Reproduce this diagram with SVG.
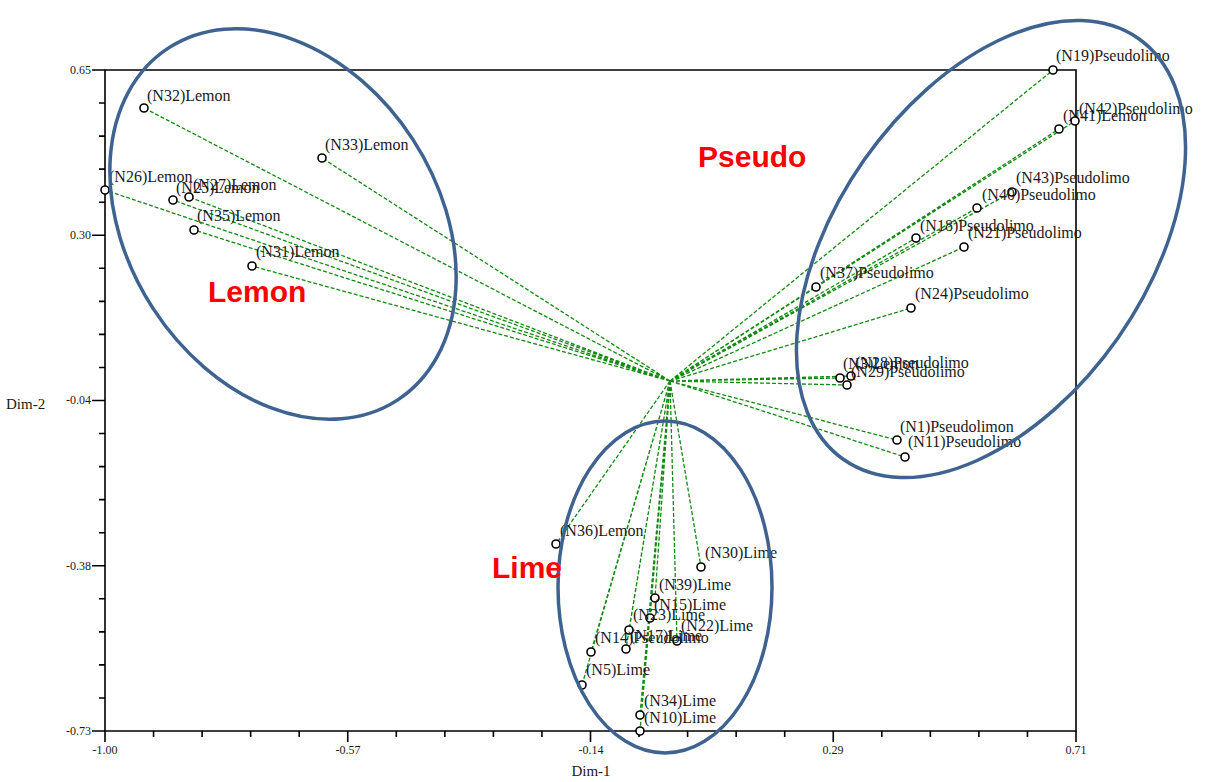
<svg xmlns="http://www.w3.org/2000/svg" width="1207" height="782" viewBox="0 0 1207 782">
<style>
.lbl{font-family:"Liberation Serif","Times New Roman",serif;font-size:16px;fill:#1a1a1a}
.tick{font-family:"Liberation Serif","Times New Roman",serif;font-size:12px;fill:#1a1a1a}
.axt{font-family:"Liberation Serif","Times New Roman",serif;font-size:15px;fill:#1a1a1a}
.grp{font-family:"Liberation Sans",Arial,sans-serif;font-size:30px;font-weight:bold;fill:#ff0000}
.ln{stroke:#128a12;stroke-width:1.3;stroke-dasharray:4 2;fill:none}
.pt{fill:#ffffff;stroke:#000;stroke-width:1.6}
.ax{stroke:#000;stroke-width:1.6;fill:none}
.el{fill:none;stroke:#3f6391;stroke-width:3.5}
</style>
<rect width="1207" height="782" fill="#fff"/>
<g id="axes">
<path class="ax" d="M105,70 H1076 V731 H105 Z"/>
<path class="ax" d="M105,731 V742 M153.55,731 v6 M202.1,731 v6 M250.65,731 v6 M299.2,731 v6 M347.75,731 v11 M396.3,731 v6 M444.85,731 v6 M493.4,731 v6 M541.95,731 v6 M590.5,731 v11 M639.05,731 v6 M687.6,731 v6 M736.15,731 v6 M784.7,731 v6 M833.25,731 v11 M881.8,731 v6 M930.35,731 v6 M978.9,731 v6 M1027.45,731 v6 M1076,731 v11"/>
<path class="ax" d="M92,70 H105 M99,103.05 h6 M99,136.1 h6 M99,169.15 h6 M99,202.2 h6 M92,235.25 H105 M99,268.3 h6 M99,301.35 h6 M99,334.4 h6 M99,367.45 h6 M92,400.5 H105 M99,433.55 h6 M99,466.6 h6 M99,499.65 h6 M99,532.7 h6 M92,565.75 H105 M99,598.8 h6 M99,631.85 h6 M99,664.9 h6 M99,697.95 h6 M92,731 H105"/>
<g class="tick" text-anchor="end">
<text x="91" y="74">0.65</text>
<text x="91" y="239">0.30</text>
<text x="91" y="404">-0.04</text>
<text x="91" y="570">-0.38</text>
<text x="91" y="735">-0.73</text>
</g>
<g class="tick" text-anchor="middle">
<text x="105" y="754">-1.00</text>
<text x="348" y="754">-0.57</text>
<text x="591" y="754">-0.14</text>
<text x="833" y="754">0.29</text>
<text x="1076" y="754">0.71</text>
</g>
<text class="axt" x="591" y="776" text-anchor="middle">Dim-1</text>
<text class="axt" x="6" y="409">Dim-2</text>
</g>
<g id="connectors">
<path class="ln" d="M670,381 L144,108 M670,381 L322,158 M670,381 L105,190 M670,381 L173,200 M670,381 L189,197 M670,381 L194,230 M670,381 L252,266 M670,381 L556,544"/>
<path class="ln" d="M670,381 L1053,70 M670,381 L1059,129 M670,381 L1075,121 M670,381 L1012,192 M670,381 L977,208 M670,381 L916,238 M670,381 L964,247 M670,381 L816,287 M670,381 L911,308 M670,381 L840,378 M670,381 L851,376 M670,381 L847,385 M670,381 L897,440 M670,381 L905,457"/>
<path class="ln" d="M670,381 L701,567 M670,381 L655,598 M670,381 L650,618 M670,381 L629,630 M670,381 L677,641 M670,381 L626,649 M670,381 L591,652 M670,381 L582,685 M670,381 L640,715 M670,381 L640,731"/>
</g>
<g id="n32"><circle class="pt" cx="144" cy="108" r="4"/><text class="lbl" x="147" y="101">(N32)Lemon</text></g>
<g id="n33"><circle class="pt" cx="322" cy="158" r="4"/><text class="lbl" x="325" y="150">(N33)Lemon</text></g>
<g id="n26"><circle class="pt" cx="105" cy="190" r="4"/><text class="lbl" x="109" y="182">(N26)Lemon</text></g>
<g id="n25"><circle class="pt" cx="173" cy="200" r="4"/><text class="lbl" x="176" y="193">(N25)Lemon</text></g>
<g id="n27"><circle class="pt" cx="189" cy="197" r="4"/><text class="lbl" x="193" y="190">(N27)Lemon</text></g>
<g id="n35"><circle class="pt" cx="194" cy="230" r="4"/><text class="lbl" x="197" y="221">(N35)Lemon</text></g>
<g id="n31"><circle class="pt" cx="252" cy="266" r="4"/><text class="lbl" x="256" y="257">(N31)Lemon</text></g>
<g id="n36"><circle class="pt" cx="556" cy="544" r="4"/><text class="lbl" x="560" y="536">(N36)Lemon</text></g>
<g id="n19"><circle class="pt" cx="1053" cy="70" r="4"/><text class="lbl" x="1056" y="61">(N19)Pseudolimo</text></g>
<g id="n41"><circle class="pt" cx="1059" cy="129" r="4"/><text class="lbl" x="1063" y="121">(N41)Lemon</text></g>
<g id="n42"><circle class="pt" cx="1075" cy="121" r="4"/><text class="lbl" x="1079" y="114">(N42)Pseudolimo</text></g>
<g id="n43"><circle class="pt" cx="1012" cy="192" r="4"/><text class="lbl" x="1016" y="183">(N43)Pseudolimo</text></g>
<g id="n40"><circle class="pt" cx="977" cy="208" r="4"/><text class="lbl" x="982" y="200">(N40)Pseudolimo</text></g>
<g id="n18"><circle class="pt" cx="916" cy="238" r="4"/><text class="lbl" x="920" y="231">(N18)Pseudolimo</text></g>
<g id="n21"><circle class="pt" cx="964" cy="247" r="4"/><text class="lbl" x="968" y="238">(N21)Pseudolimo</text></g>
<g id="n37"><circle class="pt" cx="816" cy="287" r="4"/><text class="lbl" x="820" y="278">(N37)Pseudolimo</text></g>
<g id="n24"><circle class="pt" cx="911" cy="308" r="4"/><text class="lbl" x="915" y="299">(N24)Pseudolimo</text></g>
<g id="n3"><circle class="pt" cx="840" cy="378" r="4"/><text class="lbl" x="843" y="369">(N3)Lemon</text></g>
<g id="n28"><circle class="pt" cx="851" cy="376" r="4"/><text class="lbl" x="855" y="368">(N28)Pseudolimo</text></g>
<g id="n29"><circle class="pt" cx="847" cy="385" r="4"/><text class="lbl" x="851" y="377">(N29)Pseudolimo</text></g>
<g id="n1"><circle class="pt" cx="897" cy="440" r="4"/><text class="lbl" x="900" y="432">(N1)Pseudolimon</text></g>
<g id="n11"><circle class="pt" cx="905" cy="457" r="4"/><text class="lbl" x="908" y="447">(N11)Pseudolimo</text></g>
<g id="n30"><circle class="pt" cx="701" cy="567" r="4"/><text class="lbl" x="705" y="558">(N30)Lime</text></g>
<g id="n39"><circle class="pt" cx="655" cy="598" r="4"/><text class="lbl" x="659" y="590">(N39)Lime</text></g>
<g id="n15"><circle class="pt" cx="650" cy="618" r="4"/><text class="lbl" x="654" y="610">(N15)Lime</text></g>
<g id="n23"><circle class="pt" cx="629" cy="630" r="4"/><text class="lbl" x="633" y="620">(N23)Lime</text></g>
<g id="n22"><circle class="pt" cx="677" cy="641" r="4"/><text class="lbl" x="681" y="631">(N22)Lime</text></g>
<g id="n17"><circle class="pt" cx="626" cy="649" r="4"/><text class="lbl" x="630" y="641">(N17)Lime</text></g>
<g id="n14"><circle class="pt" cx="591" cy="652" r="4"/><text class="lbl" x="595" y="643">(N14)Pseudolimo</text></g>
<g id="n5"><circle class="pt" cx="582" cy="685" r="4"/><text class="lbl" x="586" y="675">(N5)Lime</text></g>
<g id="n34"><circle class="pt" cx="640" cy="715" r="4"/><text class="lbl" x="644" y="706">(N34)Lime</text></g>
<g id="n10"><circle class="pt" cx="640" cy="731" r="4"/><text class="lbl" x="644" y="723">(N10)Lime</text></g>
<g id="clusters">
<ellipse class="el" cx="283" cy="224" rx="210" ry="155" transform="rotate(57 283 224)"/>
<ellipse class="el" cx="991" cy="249" rx="257" ry="155" transform="rotate(-55 991 249)"/>
<ellipse class="el" cx="665" cy="587" rx="107" ry="166"/>
</g>
<g id="group-labels">
<text class="grp" x="208" y="302">Lemon</text>
<text class="grp" x="698" y="167">Pseudo</text>
<text class="grp" x="492" y="578">Lime</text>
</g>
</svg>
